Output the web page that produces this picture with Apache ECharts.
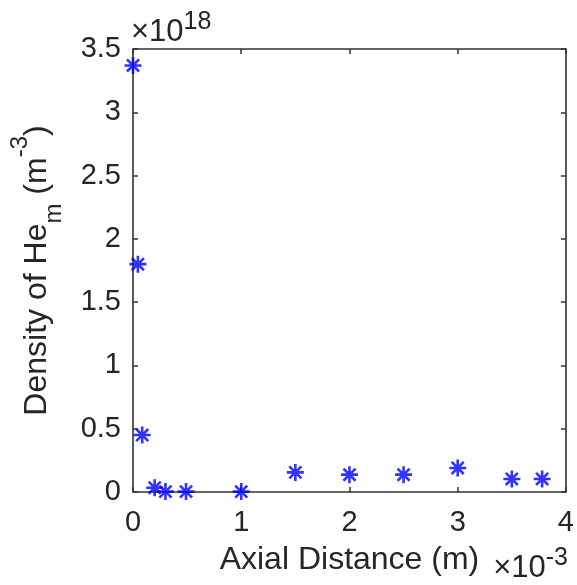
<!DOCTYPE html>
<html>
<head>
<meta charset="utf-8">
<script src="https://cdn.jsdelivr.net/npm/echarts@6/dist/echarts.min.js"></script>
<style>
html,body{margin:0;padding:0;background:#fff;}
#chart{width:577px;height:585px;}
</style>
</head>
<body>
<div id="chart"></div>
<script>
// Axial distance (units of 1e-3 m)
const axialDistance = [0, 0.045, 0.085, 0.2, 0.3, 0.49, 1.0, 1.5, 2.0, 2.5, 3.0, 3.5, 3.78];
// Density of He_m (units of 1e18 m^-3)
const densityHem = [3.37, 1.80, 0.45, 0.034, 0.003, 0.003, 0.003, 0.155, 0.137, 0.137, 0.19, 0.103, 0.103];
const xTicks = [0, 1, 2, 3, 4];
const yTicks = [0, 0.5, 1, 1.5, 2, 2.5, 3, 3.5];

const FONT = "'Liberation Sans', Arial, Helvetica, sans-serif";
const AX = '#333333';
const TXT = '#262626';

const chart = echarts.init(document.getElementById('chart'), null, {renderer: 'canvas'});

const points = axialDistance.map((x, i) => [x, densityHem[i]]);

const baseAxis = {
  axisLine: {show: true, onZero: false, lineStyle: {color: AX, width: 1.6}},
  axisTick: {show: true, inside: true, length: 5, lineStyle: {color: AX, width: 1.5}},
  splitLine: {show: false}
};

chart.setOption({
  animation: false,
  backgroundColor: '#ffffff',
  grid: {left: 130, right: 9, top: 49, bottom: 93, containLabel: false},
  xAxis: [
    Object.assign({}, baseAxis, {
      type: 'value', position: 'bottom',
      min: xTicks[0], max: xTicks[xTicks.length - 1], interval: 1,
      axisLabel: {show: true, color: TXT, fontSize: 29, fontFamily: FONT, margin: 16,
        showMinLabel: true, showMaxLabel: true},
      name: 'Axial Distance (m)',
      nameLocation: 'middle', nameGap: 52,
      nameTextStyle: {color: TXT, fontSize: 32, fontFamily: FONT}
    }),
    Object.assign({}, baseAxis, {
      type: 'value', position: 'top',
      min: xTicks[0], max: xTicks[xTicks.length - 1], interval: 1,
      axisLabel: {show: false}
    })
  ],
  yAxis: [
    Object.assign({}, baseAxis, {
      type: 'value', position: 'left',
      min: yTicks[0], max: yTicks[yTicks.length - 1], interval: 0.5,
      axisLabel: {show: true, color: TXT, fontSize: 29, fontFamily: FONT, margin: 12,
        showMinLabel: true, showMaxLabel: true},
      name: '{t|Density of He}{sub|m}{t| (m}{sup|-3}{t|)}',
      nameLocation: 'middle', nameGap: 67, nameRotate: 90,
      nameTextStyle: {
        color: TXT, fontFamily: FONT, fontSize: 32,
        rich: {
          t: {fontSize: 32, lineHeight: 58, fontFamily: FONT, color: TXT, verticalAlign: 'middle'},
          sub: {fontSize: 24, lineHeight: 18, fontFamily: FONT, color: TXT, verticalAlign: 'bottom'},
          sup: {fontSize: 24, lineHeight: 18, fontFamily: FONT, color: TXT, verticalAlign: 'top'}
        }
      }
    }),
    Object.assign({}, baseAxis, {
      type: 'value', position: 'right',
      min: yTicks[0], max: yTicks[yTicks.length - 1], interval: 0.5,
      axisLabel: {show: false}
    })
  ],
  series: [{
    type: 'scatter',
    xAxisIndex: 0, yAxisIndex: 0,
    data: points,
    symbol: 'path://M8,0L8,16M0,8L16,8M2.3,2.3L13.7,13.7M2.3,13.7L13.7,2.3',
    symbolSize: 17,
    itemStyle: {color: 'transparent', borderColor: '#0000ff', borderWidth: 2.6},
    emphasis: {disabled: true},
    clip: false,
    z: 5
  }],
  graphic: [
    {
      type: 'text', left: 131, top: 10,
      style: {
        text: '{a|×10}{b|18}',
        rich: {
          a: {fontSize: 31, lineHeight: 44, fontFamily: FONT, fill: TXT, verticalAlign: 'middle'},
          b: {fontSize: 25, lineHeight: 14, fontFamily: FONT, fill: TXT, verticalAlign: 'top'}
        }
      }
    },
    {
      type: 'text', right: 9, top: 546,
      style: {
        text: '{a|×10}{b|-3}',
        rich: {
          a: {fontSize: 31, lineHeight: 44, fontFamily: FONT, fill: TXT, verticalAlign: 'middle'},
          b: {fontSize: 25, lineHeight: 18, fontFamily: FONT, fill: TXT, verticalAlign: 'top'}
        }
      }
    }
  ]
});
</script>
</body>
</html>
